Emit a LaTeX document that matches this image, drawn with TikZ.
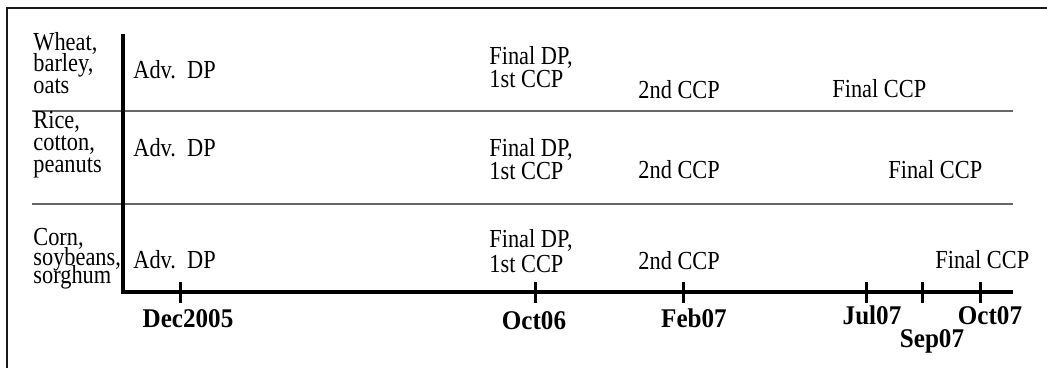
\documentclass[tikz,border=0pt]{standalone}
\usepackage{fontspec}
\setmainfont{Liberation Serif}[FakeStretch=0.86,BoldFeatures={FakeStretch=0.93}]
\begin{document}
\begin{tikzpicture}[x=0.5pt,y=-0.5pt,
  lbl/.style={anchor=base west,inner sep=0pt,font=\fontsize{13}{13}\selectfont},
  datelbl/.style={anchor=base,inner sep=0pt,font=\fontsize{13.5}{13.5}\selectfont\bfseries},
  axisline/.style={line width=1.75pt},
  sepline/.style={line width=0.75pt,draw=black!60},
  tickline/.style={line width=1.5pt},
  frameline/.style={line width=1.25pt,draw=black!90}]
\useasboundingbox (0,0) rectangle (1047,368);
% frame
\coordinate (fTL) at (7,8);
\coordinate (fTR) at (1047,8);
\coordinate (fBL) at (7,368);
\draw[frameline] (fTR) -- (fTL) -- (fBL);
% row separators
\coordinate (s1a) at (32,111); \coordinate (s1b) at (1013,111);
\coordinate (s2a) at (32,204); \coordinate (s2b) at (1013,204);
\draw[sepline] (s1a) -- (s1b);
\draw[sepline] (s2a) -- (s2b);
% axes
\coordinate (aTop) at (123,34);
\coordinate (aCorner) at (123,292);
\coordinate (aEnd) at (1013,292);
\draw[axisline] (aTop) -- (aCorner) -- (aEnd);
% ticks
\foreach \n/\x in {dec/180,oct/535,feb/683,jul/866,sep/922,octs/980}{
  \coordinate (\n a) at (\x,282);
  \coordinate (\n b) at (\x,303);
  \draw[tickline] (\n a) -- (\n b);
}
% date labels
\node[datelbl] (lDec) at (188,327) {Dec2005};
\node[datelbl] (lOct) at (534,329) {Oct06};
\node[datelbl] (lFeb) at (694,327) {Feb07};
\node[datelbl] (lJul) at (872,324) {Jul07};
\node[datelbl] (lOct7) at (990,324) {Oct07};
\node[datelbl] (lSep) at (932,347) {Sep07};
% row 1
\node[lbl] (r1a) at (33,51) {Wheat,};
\node[lbl] (r1b) at (33,72) {barley,};
\node[lbl] (r1c) at (33,94) {oats};
\node[lbl] (r1adv) at (133,79) {Adv.\ \ DP};
\node[lbl] (r1fa) at (489,65) {Final DP,};
\node[lbl] (r1fb) at (489,88) {1st CCP};
\node[lbl] (r1s) at (638,99) {2nd CCP};
\node[lbl] (r1f) at (832,98) {Final CCP};
% row 2
\node[lbl] (r2a) at (33,129) {Rice,};
\node[lbl] (r2b) at (33,151) {cotton,};
\node[lbl] (r2c) at (33,173) {peanuts};
\node[lbl] (r2adv) at (133,157) {Adv.\ \ DP};
\node[lbl] (r2fa) at (489,157) {Final DP,};
\node[lbl] (r2fb) at (489,180) {1st CCP};
\node[lbl] (r2s) at (638,179) {2nd CCP};
\node[lbl] (r2f) at (888,179) {Final CCP};
% row 3
\node[lbl] (r3a) at (33,246) {Corn,};
\node[lbl] (r3b) at (33,266) {soybeans,};
\node[lbl] (r3c) at (33,284) {sorghum};
\node[lbl] (r3adv) at (133,269) {Adv.\ \ DP};
\node[lbl] (r3fa) at (489,248) {Final DP,};
\node[lbl] (r3fb) at (489,272) {1st CCP};
\node[lbl] (r3s) at (638,270) {2nd CCP};
\node[lbl] (r3f) at (935,269) {Final CCP};
\end{tikzpicture}
\end{document}
